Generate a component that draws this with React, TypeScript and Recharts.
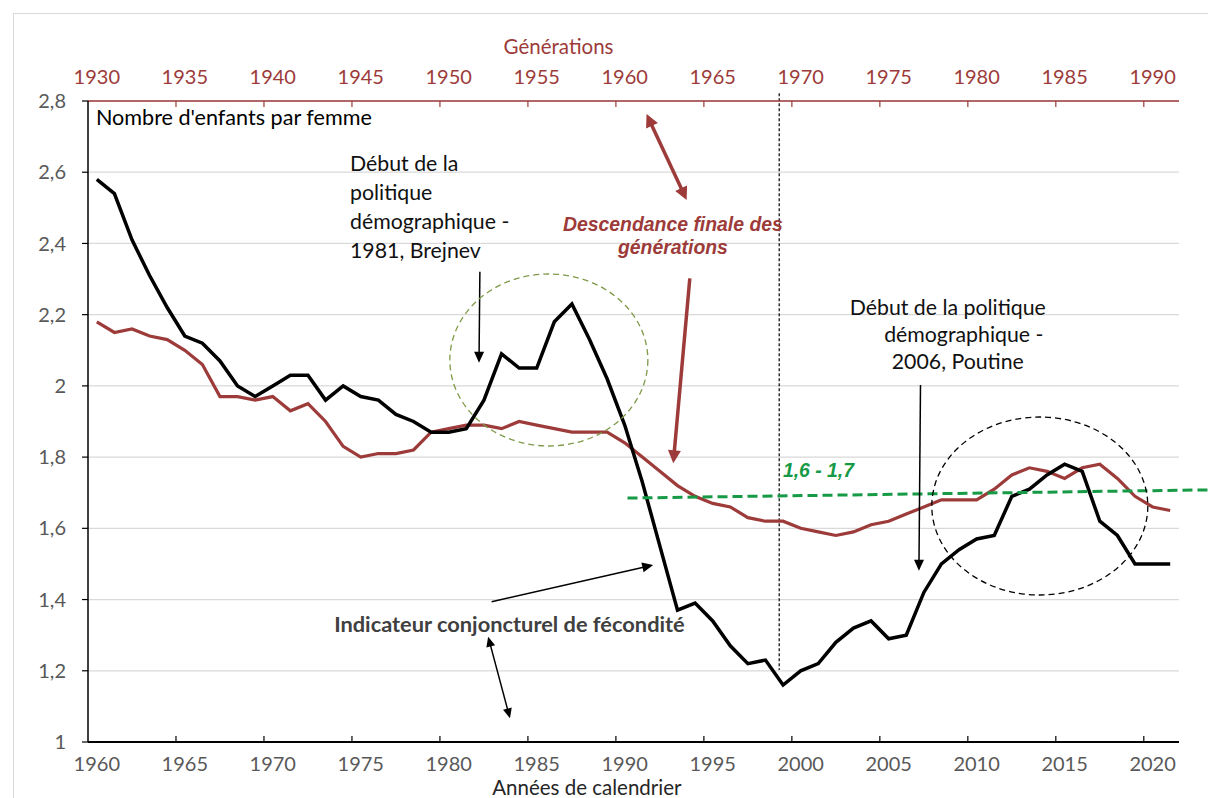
import React from "react";
import {
  LineChart,
  Line,
  XAxis,
  YAxis,
  CartesianGrid,
  ReferenceLine,
  ReferenceDot,
} from "recharts";

// ---------- DATA ----------
const YEARS = [
  1960, 1961, 1962, 1963, 1964, 1965, 1966, 1967, 1968, 1969, 1970, 1971, 1972, 1973, 1974, 1975,
  1976, 1977, 1978, 1979, 1980, 1981, 1982, 1983, 1984, 1985, 1986, 1987, 1988, 1989, 1990, 1991,
  1992, 1993, 1994, 1995, 1996, 1997, 1998, 1999, 2000, 2001, 2002, 2003, 2004, 2005, 2006, 2007,
  2008, 2009, 2010, 2011, 2012, 2013, 2014, 2015, 2016, 2017, 2018, 2019, 2020, 2021,
];
const GENERATIONS = [
  1930, 1931, 1932, 1933, 1934, 1935, 1936, 1937, 1938, 1939, 1940, 1941, 1942, 1943, 1944, 1945,
  1946, 1947, 1948, 1949, 1950, 1951, 1952, 1953, 1954, 1955, 1956, 1957, 1958, 1959, 1960, 1961,
  1962, 1963, 1964, 1965, 1966, 1967, 1968, 1969, 1970, 1971, 1972, 1973, 1974, 1975, 1976, 1977,
  1978, 1979, 1980, 1981, 1982, 1983, 1984, 1985, 1986, 1987, 1988, 1989, 1990, 1991,
];
// Indicateur conjoncturel de fécondité (by calendar year)
const ICF = [
  2.58, 2.54, 2.41, 2.31, 2.22, 2.14, 2.12, 2.07, 2.0, 1.97, 2.0, 2.03, 2.03, 1.96, 2.0, 1.97,
  1.96, 1.92, 1.9, 1.87, 1.87, 1.88, 1.96, 2.09, 2.05, 2.05, 2.18, 2.23, 2.13, 2.02, 1.89, 1.73,
  1.55, 1.37, 1.39, 1.34, 1.27, 1.22, 1.23, 1.16, 1.2, 1.22, 1.28, 1.32, 1.34, 1.29, 1.3, 1.42,
  1.5, 1.54, 1.57, 1.58, 1.69, 1.71, 1.75, 1.78, 1.76, 1.62, 1.58, 1.5, 1.5, 1.5,
];
// Descendance finale (by generation)
const DF = [
  2.18, 2.15, 2.16, 2.14, 2.13, 2.1, 2.06, 1.97, 1.97, 1.96, 1.97, 1.93, 1.95, 1.9, 1.83, 1.8,
  1.81, 1.81, 1.82, 1.87, 1.88, 1.89, 1.89, 1.88, 1.9, 1.89, 1.88, 1.87, 1.87, 1.87, 1.84, 1.8,
  1.76, 1.72, 1.69, 1.67, 1.66, 1.63, 1.62, 1.62, 1.6, 1.59, 1.58, 1.59, 1.61, 1.62, 1.64, 1.66,
  1.68, 1.68, 1.68, 1.71, 1.75, 1.77, 1.76, 1.74, 1.77, 1.78, 1.74, 1.69, 1.66, 1.65,
];
const YEAR_TICKS = [1960, 1965, 1970, 1975, 1980, 1985, 1990, 1995, 2000, 2005, 2010, 2015, 2020];
const GEN_TICKS = [1930, 1935, 1940, 1945, 1950, 1955, 1960, 1965, 1970, 1975, 1980, 1985, 1990];
const Y_TICKS = [1, 1.2, 1.4, 1.6, 1.8, 2, 2.2, 2.4, 2.6, 2.8];

const data = YEARS.map((year, i) => ({ year, gen: GENERATIONS[i], icf: ICF[i], df: DF[i] }));

// ---------- STYLE / LAYOUT ----------
const W = 1208;
const H = 798;
const MARGIN = { top: 71, right: 29, bottom: 26, left: 28 };
const Y_AXIS_W = 60;
const PLOT_W = W - MARGIN.left - MARGIN.right - Y_AXIS_W;
const HALF_CAT = PLOT_W / YEARS.length / 2;

const RED = "#9C3B39";
const GREEN = "#169A46";
const OLIVE = "#7F9A48";
const FONT = 'Lato, "Open Sans", sans-serif';
const ARIAL = '"Liberation Sans", Arial, sans-serif';
const TICK_SIZE = 20;

// annotation texts (positioned in data coordinates)
const TEXTS = [
  { lines: ["Nombre d'enfants par femme"], x: 1959.95, y: 2.755, anchor: "start", size: 21.6, color: "#000", family: FONT, weight: 400, italic: false, lh: 0 },
  { lines: ["Début de la", "politique", "démographique -", "1981, Brejnev"], x: 1974.39, y: 2.626, anchor: "start", size: 21.3, color: "#111", family: FONT, weight: 400, italic: false, lh: 29 },
  { lines: ["Descendance finale des", "générations"], x: 1992.74, y: 2.455, anchor: "middle", size: 19.4, color: RED, family: ARIAL, weight: 700, italic: true, lh: 23 },
  { lines: ["1,6 - 1,7"], x: 1998.99, y: 1.764, anchor: "start", size: 19.4, color: GREEN, family: ARIAL, weight: 700, italic: true, lh: 0 },
  { lines: ["Début de la politique"], x: 2008.36, y: 2.2215, anchor: "middle", size: 21.3, color: "#111", family: FONT, weight: 400, italic: false, lh: 0 },
  { lines: ["démographique -"], x: 2009.27, y: 2.1457, anchor: "middle", size: 21.3, color: "#111", family: FONT, weight: 400, italic: false, lh: 0 },
  { lines: ["2006, Poutine"], x: 2008.93, y: 2.0699, anchor: "middle", size: 21.3, color: "#111", family: FONT, weight: 400, italic: false, lh: 0 },
  { lines: ["Indicateur conjoncturel de fécondité"], x: 1983.45, y: 1.334, anchor: "middle", size: 21.8, color: "#404040", family: FONT, weight: 700, italic: false, lh: 0 },
  { lines: ["Générations"], x: 1986.24, y: 2.9545, anchor: "middle", size: 20.5, color: RED, family: FONT, weight: 400, italic: false, lh: 0 },
  { lines: ["Années de calendrier"], x: 1987.85, y: 0.874, anchor: "middle", size: 20.5, color: "#262626", family: FONT, weight: 400, italic: false, lh: 0 },
];

const ARROWS = [
  { from: { x: 1981.77, y: 2.3206 }, to: { x: 1981.72, y: 2.0651 }, color: "#000", width: 1.5, both: false, hl: 11, hw: 5 },
  { from: { x: 1991.24, y: 2.7635 }, to: { x: 1993.52, y: 2.522 }, color: RED, width: 3.5, both: true, hl: 13, hw: 6.5 },
  { from: { x: 1993.7, y: 2.3021 }, to: { x: 1992.76, y: 1.7826 }, color: RED, width: 3.5, both: false, hl: 13, hw: 6.5 },
  { from: { x: 1982.24, y: 1.2957 }, to: { x: 1983.48, y: 1.0665 }, color: "#000", width: 1.5, both: true, hl: 10, hw: 4.5 },
  { from: { x: 1982.44, y: 1.3939 }, to: { x: 1991.62, y: 1.497 }, color: "#000", width: 1.5, both: false, hl: 11, hw: 5 },
  { from: { x: 2006.81, y: 2.0025 }, to: { x: 2006.72, y: 1.481 }, color: "#000", width: 1.5, both: false, hl: 11, hw: 5 },
];

const ELLIPSES = [
  { x: 1985.69, y: 2.0727, rx: 99, ry: 86, color: OLIVE },
  { x: 2013.59, y: 1.6627, rx: 108, ry: 89, color: "#000" },
];

const fmtY = (v: number) => (Number.isInteger(v) ? String(v) : v.toFixed(1).replace(".", ","));

// ---------- SHAPES ----------
const textShape = (t: any) => (props: any) => {
  const { cx, cy } = props;
  return (
    <text
      x={cx}
      y={cy}
      textAnchor={t.anchor}
      dominantBaseline="central"
      fontSize={t.size}
      fontFamily={t.family}
      fontWeight={t.weight}
      fontStyle={t.italic ? "italic" : "normal"}
      fill={t.color}
    >
      {t.lines.map((l: string, i: number) => (
        <tspan key={i} x={cx} dy={i === 0 ? 0 : t.lh}>
          {l}
        </tspan>
      ))}
    </text>
  );
};

const ellipseShape = (e: any) => (props: any) => (
  <ellipse
    cx={props.cx}
    cy={props.cy}
    rx={e.rx}
    ry={e.ry}
    fill="none"
    stroke={e.color}
    strokeWidth={1.3}
    strokeDasharray="6 4"
  />
);

const arrowShape = (a: any) => (props: any) => {
  const { x1, y1, x2, y2 } = props;
  const dx = x2 - x1;
  const dy = y2 - y1;
  const len = Math.sqrt(dx * dx + dy * dy) || 1;
  const ux = dx / len;
  const uy = dy / len;
  const nx = -uy;
  const ny = ux;
  const head = (tx: number, ty: number, s: number) => {
    const bx = tx - s * ux * a.hl;
    const by = ty - s * uy * a.hl;
    return `${tx},${ty} ${bx + nx * a.hw},${by + ny * a.hw} ${bx - nx * a.hw},${by - ny * a.hw}`;
  };
  const sx = a.both ? x1 + ux * a.hl * 0.8 : x1;
  const sy = a.both ? y1 + uy * a.hl * 0.8 : y1;
  const ex = x2 - ux * a.hl * 0.8;
  const ey = y2 - uy * a.hl * 0.8;
  return (
    <g>
      <line x1={sx} y1={sy} x2={ex} y2={ey} stroke={a.color} strokeWidth={a.width} />
      <polygon points={head(x2, y2, 1)} fill={a.color} />
      {a.both && <polygon points={head(x1, y1, -1)} fill={a.color} />}
    </g>
  );
};

const BottomTick = (props: any) => {
  const { x, y, payload, index } = props;
  return (
    <g>
      {index > 0 && (
        <line x1={x - HALF_CAT} y1={y} x2={x - HALF_CAT} y2={y - 6} stroke="#000" strokeWidth={1.2} />
      )}
      <text x={x} y={y + 21} textAnchor="middle" dominantBaseline="central" fontSize={TICK_SIZE} fontFamily={FONT} fill="#595959">
        {payload.value}
      </text>
    </g>
  );
};

const TopTick = (props: any) => {
  const { x, y, payload, index } = props;
  return (
    <g>
      {index > 0 && (
        <line x1={x - HALF_CAT} y1={y} x2={x - HALF_CAT} y2={y + 6} stroke={RED} strokeWidth={1.2} />
      )}
      <text x={x} y={y - 25} textAnchor="middle" dominantBaseline="central" fontSize={TICK_SIZE} fontFamily={FONT} fill={RED}>
        {payload.value}
      </text>
    </g>
  );
};

export default function App() {
  return (
    <div style={{ position: "absolute", left: 0, top: 0, width: W, height: H, background: "#fff" }}>
      <div
        style={{
          position: "absolute",
          left: 13,
          top: 13,
          right: 0,
          bottom: 0,
          borderLeft: "1px solid #d9d9d9",
          borderTop: "1px solid #d9d9d9",
        }}
      />
      <LineChart width={W} height={H} data={data} margin={MARGIN} style={{ position: "absolute", left: 0, top: 0 }}>
        <CartesianGrid horizontal vertical={false} stroke="#d9d9d9" strokeWidth={1.2} />
        <XAxis
          dataKey="year"
          type="number"
          domain={[1959.5, 2021.5]}
          ticks={YEAR_TICKS}
          interval={0}
          height={30}
          tickSize={0}
          tickMargin={0}
          tickLine={false}
          axisLine={{ stroke: "#000", strokeWidth: 2 }}
          tick={<BottomTick />}
          allowDataOverflow
        />
        <XAxis
          xAxisId="gen"
          orientation="top"
          dataKey="gen"
          type="number"
          domain={[1929.5, 1991.5]}
          ticks={GEN_TICKS}
          interval={0}
          height={30}
          tickSize={0}
          tickMargin={0}
          tickLine={false}
          axisLine={{ stroke: RED, strokeWidth: 1.5 }}
          tick={<TopTick />}
          allowDataOverflow
        />
        <YAxis
          type="number"
          domain={[1, 2.8]}
          ticks={Y_TICKS}
          interval={0}
          width={Y_AXIS_W}
          tickSize={6}
          tickMargin={16}
          tickFormatter={fmtY}
          axisLine={{ stroke: "#000", strokeWidth: 1.5 }}
          tickLine={{ stroke: "#000", strokeWidth: 1.2 }}
          tick={{ fontSize: TICK_SIZE, fontFamily: FONT, fill: "#595959" }}
          allowDataOverflow
        />

        <ReferenceLine
          segment={[
            { x: 1998.78, y: 2.822 },
            { x: 1998.78, y: 1.202 },
          ]}
          stroke="#000"
          strokeWidth={1.2}
          strokeDasharray="3 2"
          ifOverflow="visible"
        />

        <Line
          xAxisId="gen"
          dataKey="df"
          type="linear"
          stroke={RED}
          strokeWidth={3.2}
          dot={false}
          isAnimationActive={false}
        />
        <Line
          dataKey="icf"
          type="linear"
          stroke="#000"
          strokeWidth={3.5}
          dot={false}
          isAnimationActive={false}
        />

        <ReferenceLine
          segment={[
            { x: 1990.16, y: 1.685 },
            { x: 2023.14, y: 1.708 },
          ]}
          stroke={GREEN}
          strokeWidth={3}
          strokeDasharray="10 5"
          ifOverflow="visible"
        />

        {ELLIPSES.map((e, i) => (
          <ReferenceDot key={"e" + i} x={e.x} y={e.y} r={1} ifOverflow="visible" shape={ellipseShape(e)} />
        ))}
        {ARROWS.map((a, i) => (
          <ReferenceLine key={"a" + i} segment={[a.from, a.to]} ifOverflow="visible" shape={arrowShape(a)} />
        ))}
        {TEXTS.map((t, i) => (
          <ReferenceDot key={"t" + i} x={t.x} y={t.y} r={1} ifOverflow="visible" shape={textShape(t)} />
        ))}
      </LineChart>
    </div>
  );
}
